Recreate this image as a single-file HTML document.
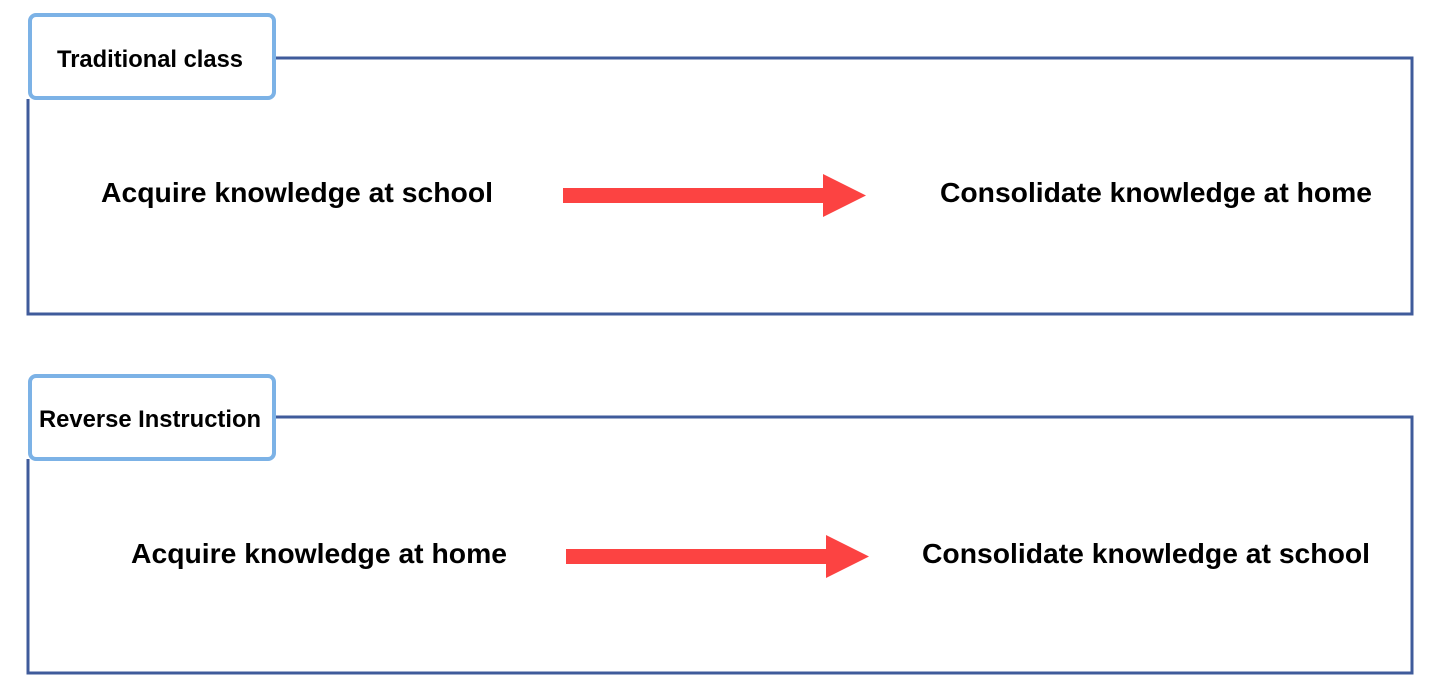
<!DOCTYPE html>
<html><head><meta charset="utf-8"><style>
html,body{margin:0;padding:0;background:#fff;width:1440px;height:690px;overflow:hidden}
svg{display:block}
text{font-family:"Liberation Sans",Arial,sans-serif;font-weight:bold;fill:#000}
</style></head><body>
<svg width="1440" height="690" viewBox="0 0 1440 690" xmlns="http://www.w3.org/2000/svg">
<!-- box 1 -->
<polyline points="275,58 1412,58 1412,314 28,314 28,99" fill="none" stroke="#3f5b9b" stroke-width="3"/>
<rect x="30" y="15" width="244" height="83" rx="6" fill="#fff" stroke="#7cb2e6" stroke-width="4"/>
<text x="57" y="67" font-size="24" textLength="186" lengthAdjust="spacingAndGlyphs">Traditional class</text>
<text x="101" y="202" font-size="28" textLength="392" lengthAdjust="spacingAndGlyphs">Acquire knowledge at school</text>
<text x="940" y="202" font-size="28" textLength="432" lengthAdjust="spacingAndGlyphs">Consolidate knowledge at home</text>
<rect x="563" y="188" width="262" height="15" fill="#fc4342"/>
<polygon points="823,174 866,195.5 823,217" fill="#fc4342"/>
<!-- box 2 -->
<polyline points="275,417 1412,417 1412,673 28,673 28,459" fill="none" stroke="#3f5b9b" stroke-width="3"/>
<rect x="30" y="376" width="244" height="83" rx="6" fill="#fff" stroke="#7cb2e6" stroke-width="4"/>
<text x="39" y="427" font-size="24" textLength="222" lengthAdjust="spacingAndGlyphs">Reverse Instruction</text>
<text x="131" y="563" font-size="28" textLength="376" lengthAdjust="spacingAndGlyphs">Acquire knowledge at home</text>
<text x="922" y="563" font-size="28" textLength="448" lengthAdjust="spacingAndGlyphs">Consolidate knowledge at school</text>
<rect x="566" y="549" width="262" height="15" fill="#fc4342"/>
<polygon points="826,535 869,556.5 826,578" fill="#fc4342"/>
</svg>
</body></html>
